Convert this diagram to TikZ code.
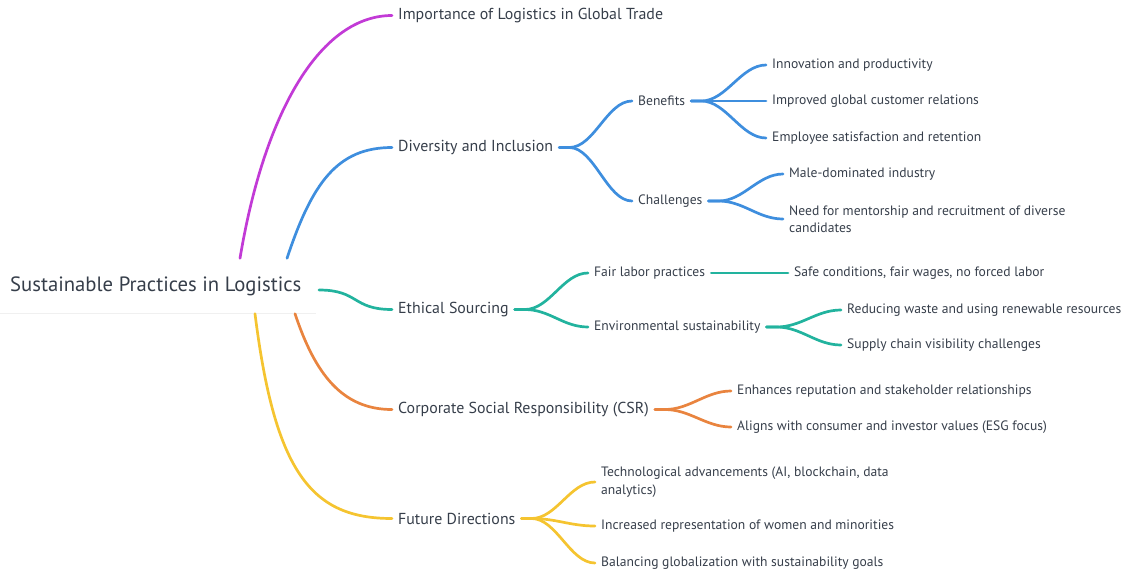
\documentclass[tikz,border=0pt]{standalone}
\usepackage{fontspec}
\setmainfont{PT Sans}
\usepackage{xcolor}
\definecolor{ink}{HTML}{363E4A}
\definecolor{magbr}{HTML}{C23AD6}
\definecolor{bluebr}{HTML}{3E8EDE}
\definecolor{tealbr}{HTML}{22B39E}
\definecolor{orangebr}{HTML}{E9843F}
\definecolor{yellowbr}{HTML}{F5C430}

\begin{document}
\begin{tikzpicture}[
  x=1pt, y=-1pt,
  rootbox/.style={anchor=west, inner xsep=10pt, minimum height=55pt, text=ink, font=\fontsize{20.7}{24}\selectfont},
  topic/.style={anchor=west, inner xsep=6pt, inner ysep=2pt, yshift=-1.5pt, text=ink, font=\fontsize{15.9}{18}\selectfont},
  leaf/.style={anchor=west, inner xsep=6pt, inner ysep=2pt, yshift=-1pt, text=ink, align=left, font=\fontsize{13.6}{17.5}\selectfont},
  link/.style={line width=2.7pt, line cap=round, draw=#1}
]
\useasboundingbox (0,0) rectangle (1129,573);

% root
\node[rootbox] (root) at (0,286) {Sustainable Practices in Logistics};
\draw[black!6, line width=0.8pt] (root.south west) -- ([xshift=4pt]root.south east);

% main topics
\node[topic] (imp) at (392,14) {Importance of Logistics in Global Trade};
\node[topic] (div) at (392,146) {Diversity and Inclusion};
\node[topic] (eth) at (392,308) {Ethical Sourcing};
\node[topic] (csr) at (392,408) {Corporate Social Responsibility (CSR)};
\node[topic] (fut) at (392,517) {Future Directions};

\draw[link=magbr] ([xshift=240pt]root.north west) .. controls +(25,-150) and +(-70,0) .. (imp.west);
\draw[link=bluebr] ([xshift=287pt]root.north west) .. controls +(25,-75) and +(-55,0) .. (div.west);
\draw[link=tealbr] ([xshift=319pt,yshift=-4pt]root.west) .. controls +(40,0) and +(-40,0) .. (eth.west);
\draw[link=orangebr] ([xshift=295pt]root.south west) .. controls +(20,60) and +(-50,0) .. (csr.west);
\draw[link=yellowbr] ([xshift=255pt]root.south west) .. controls +(20,160) and +(-80,0) .. (fut.west);

% diversity and inclusion
\node[leaf] (ben) at (632,100) {Benefits};
\node[leaf] (chal) at (632,200) {Challenges};
\node[leaf] (inno) at (766,64) {Innovation and productivity};
\node[leaf] (cust) at (766,100) {Improved global customer relations};
\node[leaf] (emp) at (766,137) {Employee satisfaction and retention};
\node[leaf] (male) at (783,173) {Male-dominated industry};
\node[leaf] (ment) at (783,218) {Need for mentorship and recruitment of diverse\\candidates};

\foreach \kid in {ben,chal}
  \draw[link=bluebr] (div.east) -- ++(10,0) .. controls +(25,0) and +(-25,0) .. (\kid.west);
\foreach \kid in {inno,cust,emp}
  \draw[link=bluebr] (ben.east) -- ++(10,0) .. controls +(25,0) and +(-25,0) .. (\kid.west);
\foreach \kid in {male,ment}
  \draw[link=bluebr] (chal.east) -- ++(10,0) .. controls +(25,0) and +(-25,0) .. (\kid.west);

% ethical sourcing
\node[leaf] (fair) at (588,272) {Fair labor practices};
\node[leaf] (env) at (588,326) {Environmental sustainability};
\node[leaf] (safe) at (788,272) {Safe conditions, fair wages, no forced labor};
\node[leaf] (waste) at (841,309) {Reducing waste and using renewable resources};
\node[leaf] (vis) at (841,344) {Supply chain visibility challenges};

\foreach \kid in {fair,env}
  \draw[link=tealbr] (eth.east) -- ++(10,0) .. controls +(25,0) and +(-25,0) .. (\kid.west);
\draw[link=tealbr] (fair.east) -- (safe.west);
\foreach \kid in {waste,vis}
  \draw[link=tealbr] (env.east) -- ++(10,0) .. controls +(25,0) and +(-25,0) .. (\kid.west);

% csr
\node[leaf] (rep) at (731,390) {Enhances reputation and stakeholder relationships};
\node[leaf] (esg) at (731,426) {Aligns with consumer and investor values (ESG focus)};

\foreach \kid in {rep,esg}
  \draw[link=orangebr] (csr.east) -- ++(10,0) .. controls +(25,0) and +(-25,0) .. (\kid.west);

% future directions
\node[leaf] (tech) at (595,481) {Technological advancements (AI, blockchain, data\\analytics)};
\node[leaf] (women) at (595,525) {Increased representation of women and minorities};
\node[leaf] (glob) at (595,562) {Balancing globalization with sustainability goals};

\foreach \kid in {tech,women,glob}
  \draw[link=yellowbr] (fut.east) -- ++(10,0) .. controls +(25,0) and +(-25,0) .. (\kid.west);

\end{tikzpicture}
\end{document}
